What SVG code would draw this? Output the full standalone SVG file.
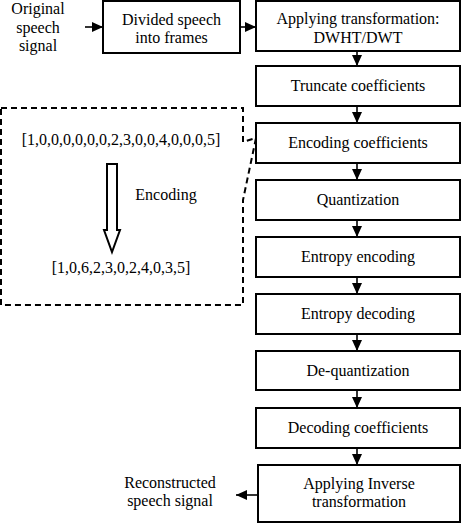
<svg xmlns="http://www.w3.org/2000/svg" width="462" height="524" viewBox="0 0 462 524">
<defs>
<style>
.box{fill:#fff;stroke:#000;stroke-width:2}
.t{font-family:"Liberation Serif","DejaVu Serif",serif;font-size:16px;fill:#000;text-anchor:middle}
.c{stroke:#000;stroke-width:1.6;fill:none}
.dash{fill:none;stroke:#000;stroke-width:2;stroke-dasharray:6,4}
</style>
<marker id="ah" markerUnits="userSpaceOnUse" markerWidth="11" markerHeight="11" viewBox="0 0 11 11" refX="11" refY="5.5" orient="auto">
<path d="M0,0.5 L11,5.5 L0,10.5 z" fill="#000"/>
</marker>
</defs>
<g id="connectors">
<line class="c" x1="85" y1="27" x2="103" y2="27" marker-end="url(#ah)"/>
<line class="c" x1="240" y1="27" x2="256" y2="27" marker-end="url(#ah)"/>
<line class="c" x1="357" y1="51" x2="357" y2="66" marker-end="url(#ah)"/>
<line class="c" x1="357" y1="106" x2="357" y2="123" marker-end="url(#ah)"/>
<line class="c" x1="357" y1="163" x2="357" y2="180" marker-end="url(#ah)"/>
<line class="c" x1="357" y1="220" x2="357" y2="237" marker-end="url(#ah)"/>
<line class="c" x1="357" y1="277" x2="357" y2="294" marker-end="url(#ah)"/>
<line class="c" x1="357" y1="334" x2="357" y2="351" marker-end="url(#ah)"/>
<line class="c" x1="357" y1="390" x2="357" y2="408" marker-end="url(#ah)"/>
<line class="c" x1="357" y1="448" x2="357" y2="465" marker-end="url(#ah)"/>
<line class="c" x1="258" y1="495" x2="236" y2="495" marker-end="url(#ah)"/>
</g>
<g id="callout">
<path class="dash" d="M1,108 L243,108 L243,142 L256,138 L243,200 L243,305 L1,305 Z"/>
<text class="t" x="121" y="145">[1,0,0,0,0,0,0,2,3,0,0,4,0,0,0,5]</text>
<polygon points="107,164 117,164 117,230 120,230 112,252 104,230 107,230" fill="#fff" stroke="#000" stroke-width="2"/>
<text class="t" x="166" y="200">Encoding</text>
<text class="t" x="121" y="273">[1,0,6,2,3,0,2,4,0,3,5]</text>
</g>
<g id="input">
<text class="t" x="38" y="14">Original</text>
<text class="t" x="38" y="33">speech</text>
<text class="t" x="38" y="51">signal</text>
</g>
<g id="divide">
<rect class="box" x="103" y="1" width="137" height="52"/>
<text class="t" x="171.5" y="25">Divided speech</text>
<text class="t" x="171.5" y="43">into frames</text>
</g>
<g id="transform">
<rect class="box" x="256" y="1" width="204" height="50"/>
<text class="t" x="358" y="24">Applying transformation:</text>
<text class="t" x="358" y="43">DWHT/DWT</text>
</g>
<g id="truncate">
<rect class="box" x="256" y="66" width="204" height="40"/>
<text class="t" x="358" y="91">Truncate coefficients</text>
</g>
<g id="encoding">
<rect class="box" x="256" y="123" width="204" height="40"/>
<text class="t" x="358" y="148">Encoding coefficients</text>
</g>
<g id="quantization">
<rect class="box" x="256" y="180" width="204" height="40"/>
<text class="t" x="358" y="205">Quantization</text>
</g>
<g id="entropy-enc">
<rect class="box" x="256" y="237" width="204" height="40"/>
<text class="t" x="358" y="262">Entropy encoding</text>
</g>
<g id="entropy-dec">
<rect class="box" x="256" y="294" width="204" height="40"/>
<text class="t" x="358" y="319">Entropy decoding</text>
</g>
<g id="dequant">
<rect class="box" x="256" y="351" width="204" height="39"/>
<text class="t" x="358" y="376">De-quantization</text>
</g>
<g id="decoding">
<rect class="box" x="256" y="408" width="204" height="40"/>
<text class="t" x="358" y="433">Decoding coefficients</text>
</g>
<g id="inverse">
<rect class="box" x="258" y="465" width="202" height="57"/>
<text class="t" x="359" y="489">Applying Inverse</text>
<text class="t" x="359" y="507">transformation</text>
</g>
<g id="output">
<text class="t" x="170" y="488">Reconstructed</text>
<text class="t" x="170" y="506">speech signal</text>
</g>
</svg>
